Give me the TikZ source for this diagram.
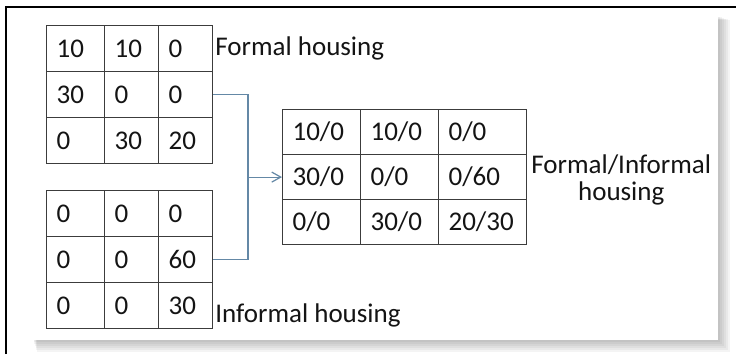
\documentclass[tikz,border=0pt]{standalone}
\usepackage{fontspec}
\setmainfont{Carlito}
\usetikzlibrary{positioning,arrows.meta}
\definecolor{gridline}{RGB}{60,60,60}
\definecolor{linkblue}{RGB}{100,136,166}
\definecolor{inktext}{RGB}{20,20,20}

\begin{document}
\begin{tikzpicture}[x=1pt,y=-1pt,
  cell/.style={draw=gridline, line width=1.2pt, anchor=north west, text width=#1,
    minimum height=46pt, inner xsep=10pt, inner ysep=0pt, align=left, text=inktext,
    font=\fontsize{27}{30}\selectfont},
  mcell/.style={cell=#1, minimum height=45pt},
  lbl/.style={inner sep=0pt, text=inktext, font=\fontsize{27}{27}\selectfont},
  link/.style={draw=linkblue, line width=1.2pt}]
\useasboundingbox (0,0) rectangle (736,354);
% panel and its shadow
\foreach \s in {2,4,...,12}
  \fill[black, opacity=0.045] ({33+\s/3},{16+\s/3}) rectangle ({718+\s},{340+\s});
\fill[white] (33,16) rectangle (718,340);
% frame
\draw[line width=2.5pt] (6,354) -- (6,7) -- (736,7);

% formal housing
\foreach \r/\a/\b/\c in {1/10/10/0, 2/30/0/0, 3/0/30/20} {
  \node[cell=38pt] (F\r1) at (46,{25+46*(\r-1)}) {\a};
  \node[cell=34pt] (F\r2) at (104,{25+46*(\r-1)}) {\b};
  \node[cell=34pt] (F\r3) at (158,{25+46*(\r-1)}) {\c};
}
% informal housing
\foreach \r/\a/\b/\c in {1/0/0/0, 2/0/0/60, 3/0/0/30} {
  \node[cell=38pt] (I\r1) at (46,{190+46*(\r-1)}) {\a};
  \node[cell=34pt] (I\r2) at (104,{190+46*(\r-1)}) {\b};
  \node[cell=34pt] (I\r3) at (158,{190+46*(\r-1)}) {\c};
}
% merged
\foreach \r/\a/\b/\c in {1/10\slash0/10\slash0/0\slash0, 2/30\slash0/0\slash0/0\slash60, 3/0\slash0/30\slash0/20\slash30} {
  \node[mcell=58pt] (M\r1) at (282,{109+45*(\r-1)}) {\a};
  \node[mcell=58pt] (M\r2) at (360,{109+45*(\r-1)}) {\b};
  \node[mcell=68pt] (M\r3) at (438,{109+45*(\r-1)}) {\c};
}

\node[lbl, right=2pt of F13] (lblF) {Formal housing};
\node[lbl, anchor=base west] (lblI) at ([xshift=2pt,yshift=-17pt]I33.east) {Informal housing};
\node[lbl, right=4pt of M23, yshift=-3pt, align=center] (lblM) {Formal/Informal\\housing};

\coordinate (join) at ([xshift=-34pt]M21.west);
\draw[link] (F23.east) -| (join);
\draw[link] (I23.east) -| (join);
\draw[link, -{Straight Barb[length=9pt,width=10pt]}] (join) -- (M21.west);
\end{tikzpicture}
\end{document}
